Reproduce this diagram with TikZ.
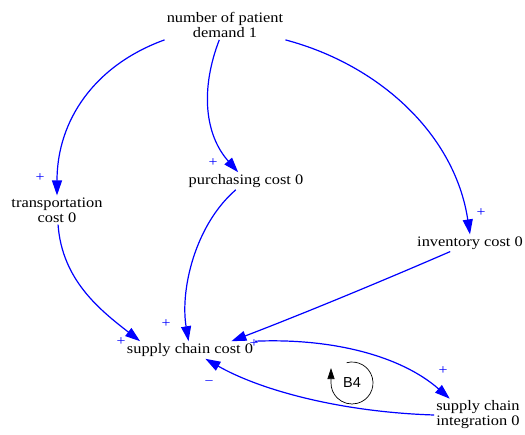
\documentclass[tikz,border=0pt]{standalone}
\usepackage{fontspec}
\setmainfont[FakeStretch=1.13]{Liberation Serif}
\newfontfamily\loopfont{Liberation Sans}
\usetikzlibrary{arrows.meta}

\begin{document}
\begin{tikzpicture}[x=1pt,y=-1pt,var/.style={inner sep=2pt,align=center,font=\fontsize{14.5}{15}\selectfont},sign/.style={inner sep=0pt,text=blue,font=\fontsize{14}{14}\selectfont},link/.style={draw=blue,line width=1.2pt,-{Triangle[length=15pt,width=10pt]}}] %
    \useasboundingbox (0,0) rectangle (525,434); %
    \node[var] (demand) at (225,25) {number of patient\\demand 1} ; %
    \node[var] (transport) at (57,210) {transportation\\cost 0} ; %
    \node[var] (purchasing) at (246,181) {purchasing cost 0} ; %
    \node[var] (inventory) at (470,243) {inventory cost 0} ;
    \node[var] (scc) at (190,350) {supply chain cost 0};
    \node[var] (integration) at (478,415) {supply chain\\integration 0};
    \node[font=\loopfont\fontsize{14.5}{15}\selectfont] (b4) at (352,383) {B4};
    \node[sign] (s1) at (40,178) {+};
    \node[sign] (s2) at (213,163) {+};
    \node[sign] (s3) at (481,213) {+};
    \node[sign] (s4) at (166,324) {+};
    \node[sign] (s5) at (121,342) {+};
    \node[sign] (s6) at (254,344) {+};
    \node[sign] (s7) at (443,371) {+};
    \node[sign] (s8) at (209,383) {−};
    \draw[link] (demand.south west) .. controls (95,65) and (57,120) .. (transport.north) ; %
    \draw[link] (demand) .. controls (200,90) and (205,135) .. (purchasing);
    \draw[link] (demand.south east) .. controls (380,65) and (455,135) .. (inventory.north);
    \draw[link] (transport) .. controls (62,280) and (100,310) .. (scc.170);
    \draw[link] (purchasing) .. controls (195,225) and (180,290) .. (scc);
    \draw[link] (inventory) .. controls (380,282) and (300,315) .. (scc.12);
    \draw[link] (scc.north east) .. controls (330,338) and (400,355) .. (integration.150);
    \draw[link] (integration.west) .. controls (340,412) and (260,390) .. (scc);
    \draw[line width=0.7pt,-{Triangle[length=11pt,width=7pt]}] (b4.center) ++(105:21pt) arc[start angle=105,end angle=-180,radius=21pt] -- ++(0pt,15pt);
  \end{tikzpicture}
\end{document}
